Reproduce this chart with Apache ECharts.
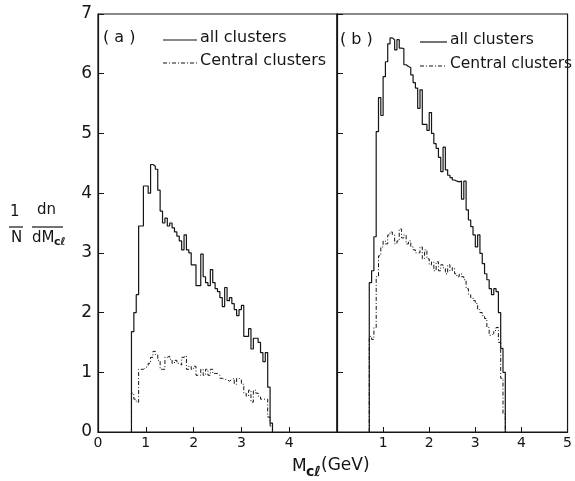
<!DOCTYPE html>
<html>
<head>
<meta charset="utf-8">
<script src="https://cdn.jsdelivr.net/npm/echarts@6/dist/echarts.min.js"></script>
<style>
html,body{margin:0;padding:0;background:#fff;}
#chart{width:575px;height:481px;}
</style>
</head>
<body>
<div id="chart"></div>
<script>
// Histogram binning (GeV)
const binStart = 0.70;
const binWidth = 0.05;

// Panel (a)
const allA = [1.68,2.0,2.3,3.45,3.45,4.12,4.12,4.0,4.48,4.45,4.4,4.05,3.7,3.5,3.58,3.45,3.5,3.42,3.35,3.28,
  3.2,3.05,3.3,3.05,3.0,2.8,2.8,2.45,2.45,2.98,2.6,2.5,2.45,2.72,2.5,2.4,2.35,2.25,2.1,2.42,
  2.2,2.25,2.15,2.05,1.95,2.05,2.12,1.6,1.6,1.73,1.39,1.57,1.57,1.5,1.33,1.18,1.33,0.75,0.15];
const centralA = [0.65,0.55,0.5,1.05,1.05,1.08,1.1,1.15,1.25,1.35,1.3,1.2,1.05,1.05,1.25,1.27,1.22,1.15,1.2,1.15,
  1.12,1.25,1.28,1.05,1.1,1.05,1.1,0.95,0.95,1.05,0.95,1.05,0.95,1.05,0.98,0.98,0.95,0.9,0.88,0.88,
  0.85,0.88,0.9,0.8,0.9,0.88,0.8,0.65,0.6,0.7,0.5,0.7,0.65,0.6,0.55,0.55,0.55,0.25,0.1];

// Panel (b)
const allB = [2.5,2.7,3.27,5.03,5.6,5.3,5.95,6.2,6.5,6.6,6.57,6.4,6.57,6.43,6.42,6.15,6.12,6.1,5.98,5.85,
  5.76,5.42,5.73,5.15,5.15,5.05,5.35,5.0,4.83,4.75,4.6,4.36,4.77,4.39,4.3,4.26,4.22,4.2,4.19,4.2,
  3.9,4.2,3.72,3.55,3.44,3.3,3.1,3.3,2.99,2.82,2.65,2.55,2.4,2.3,2.4,2.35,2.0,1.4,1.0];
const centralB = [1.6,1.55,1.75,2.6,2.95,3.1,3.2,3.15,3.3,3.35,3.3,3.15,3.2,3.4,3.25,3.3,3.15,3.2,3.1,3.05,
  3.0,3.0,3.1,2.9,3.05,2.9,2.8,2.85,2.7,2.85,2.7,2.8,2.75,2.65,2.8,2.7,2.75,2.65,2.6,2.65,
  2.6,2.55,2.4,2.3,2.25,2.2,2.15,2.05,2.0,1.95,1.9,1.75,1.62,1.65,1.7,1.75,1.5,0.9,0.3];

// Axis ticks
const xTicksA = ['0','1','2','3','4',''];
const xTicksB = ['','1','2','3','4','5'];
const yTicks = ['0','1','2','3','4','5','6','7'];

const legendLabels = ['all clusters', 'Central clusters'];

function hist(vals) {
  const pts = [[binStart, 0]];
  vals.forEach((v, i) => pts.push([+(binStart + i * binWidth).toFixed(3), v]));
  pts.push([+(binStart + vals.length * binWidth).toFixed(3), 0]);
  return pts;
}

const FONT = 'DejaVu Sans';
const INK = '#151515';
const dashDot = [4, 2, 1, 2];

const chart = echarts.init(document.getElementById('chart'), null, {renderer: 'canvas'});

function xAxis(idx, ticks) {
  return {
    type: 'value', gridIndex: idx, min: 0, max: 5, interval: 1,
    axisLine: {show: true, lineStyle: {color: INK, width: 1.2}},
    axisTick: {show: true, inside: true, length: 5, lineStyle: {color: INK, width: 1}},
    axisLabel: {show: true, color: INK, fontFamily: FONT, fontSize: 14, margin: 4,
      showMinLabel: true, showMaxLabel: true,
      formatter: v => ticks[Math.round(v)] || ''},
    splitLine: {show: false}
  };
}
function yAxis(idx, showLabel) {
  return {
    type: 'value', gridIndex: idx, min: 0, max: 7, interval: 1,
    axisLine: {show: true, lineStyle: {color: INK, width: 1.2}},
    axisTick: {show: true, inside: true, length: 6, lineStyle: {color: INK, width: 1}},
    axisLabel: {show: showLabel, color: INK, fontFamily: FONT, fontSize: 17, margin: 6,
      showMinLabel: true, showMaxLabel: true,
      formatter: v => yTicks[Math.round(v)]},
    splitLine: {show: false}
  };
}
function line(xi, vals, dashed) {
  return {
    type: 'line', xAxisIndex: xi, yAxisIndex: xi, step: 'end', symbol: 'none',
    data: hist(vals), silent: true, animation: false,
    lineStyle: {color: INK, width: dashed ? 1 : 1.2, type: dashed ? dashDot : 'solid'},
    z: dashed ? 3 : 2
  };
}

function legendGraphics(x0, x1, xt, y1, y2, tag, tagX, fs) {
  return [
    {type: 'text', left: tagX, top: y1 - 10, style: {text: tag, font: '16px ' + FONT, fill: INK}},
    {type: 'line', shape: {x1: x0, y1: y1, x2: x1, y2: y1}, style: {stroke: INK, lineWidth: 1.2}},
    {type: 'line', shape: {x1: x0, y1: y2, x2: x1, y2: y2}, style: {stroke: INK, lineWidth: 1.1, lineDash: dashDot}},
    {type: 'text', left: xt, top: y1 - 10, style: {text: legendLabels[0], font: fs + 'px ' + FONT, fill: INK}},
    {type: 'text', left: xt, top: y2 - 10, style: {text: legendLabels[1], font: fs + 'px ' + FONT, fill: INK}}
  ];
}

const graphics = [].concat(
  legendGraphics(163, 197, 200, 40, 63, '( a )', 103, 16),
  legendGraphics(420, 447, 450, 42, 66, '( b )', 340, 15.5),
  [
    // x axis title
    {type: 'text', left: 292, top: 458, style: {text: 'M', font: '17px ' + FONT, fill: INK}},
    {type: 'text', left: 306, top: 465, style: {text: 'cℓ', font: 'bold 14px ' + FONT, fill: INK}},
    {type: 'text', left: 321, top: 457, style: {text: '(GeV)', font: '17px ' + FONT, fill: INK}},
    // y axis title: 1/N dn/dM_cl
    {type: 'text', left: 10, top: 205, style: {text: '1', font: '15px ' + FONT, fill: INK}},
    {type: 'line', shape: {x1: 9, y1: 227, x2: 23, y2: 227}, style: {stroke: INK, lineWidth: 1.2}},
    {type: 'text', left: 11, top: 231, style: {text: 'N', font: '15px ' + FONT, fill: INK}},
    {type: 'text', left: 37, top: 203, style: {text: 'dn', font: '15px ' + FONT, fill: INK}},
    {type: 'line', shape: {x1: 32, y1: 227, x2: 63, y2: 227}, style: {stroke: INK, lineWidth: 1.2}},
    {type: 'text', left: 32, top: 231, style: {text: 'dM', font: '15px ' + FONT, fill: INK}},
    {type: 'text', left: 54, top: 237, style: {text: 'cℓ', font: 'bold 11px ' + FONT, fill: INK}}
  ]
);

chart.setOption({
  animation: false,
  backgroundColor: '#fff',
  grid: [
    {left: 98, top: 14, width: 239, height: 418, show: true, borderColor: INK, borderWidth: 1.2, backgroundColor: 'transparent'},
    {left: 337, top: 14, width: 237, height: 418, show: true, borderColor: INK, borderWidth: 1.2, backgroundColor: 'transparent'}
  ],
  xAxis: [xAxis(0, xTicksA), xAxis(1, xTicksB)],
  yAxis: [yAxis(0, true), yAxis(1, false)],
  series: [line(0, allA, false), line(0, centralA, true), line(1, allB, false), line(1, centralB, true)],
  graphic: graphics
});
</script>
</body>
</html>
